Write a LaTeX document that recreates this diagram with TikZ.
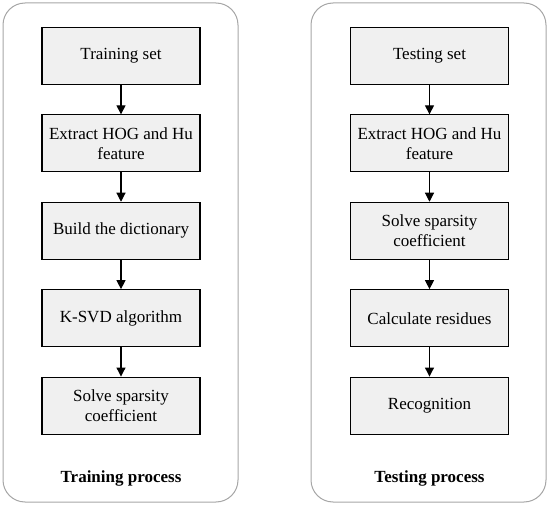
\documentclass[tikz,border=0pt]{standalone}
\usepackage{fontspec}
\setmainfont{Liberation Serif}
\usetikzlibrary{arrows.meta}

\begin{document}
\begin{tikzpicture}[x=1pt,y=-1pt,
  panel/.style={draw=black!35,line width=1pt,rounded corners=22pt},
  stepbox/.style={draw,line width=1.1pt,fill=black!6,minimum width=158pt,minimum height=57pt,inner sep=1pt,align=center,font=\fontsize{17}{20}\selectfont},
  title/.style={font=\fontsize{17}{20}\selectfont\bfseries},
  flow/.style={draw,line width=1.1pt,-{Triangle[width=9pt,length=9pt]}}]
\useasboundingbox (0,0) rectangle (550,508);
\draw[panel] (3,3) rectangle (238,502);
\draw[panel] (311,3) rectangle (546,502);
\node[stepbox] (t1) at (121,56) {Training set};
\node[stepbox] (t2) at (121,143.4) {Extract HOG and Hu\\feature};
\node[stepbox] (t3) at (121,230.8) {Build the dictionary};
\node[stepbox] (t4) at (121,318.2) {K-SVD algorithm};
\node[stepbox] (t5) at (121,405.6) {Solve sparsity\\coefficient};
\node[title] (tp) at (121,478) {Training process};
\node[stepbox] (s1) at (429.5,56) {Testing set};
\node[stepbox] (s2) at (429.5,143.4) {Extract HOG and Hu\\feature};
\node[stepbox] (s3) at (429.5,230.8) {Solve sparsity\\coefficient};
\node[stepbox] (s4) at (429.5,318.2) {Calculate residues};
\node[stepbox] (s5) at (429.5,405.6) {Recognition};
\node[title] (sp) at (429.5,478) {Testing process};
\path[flow](t1) edge (t2);
\path[flow](t2) edge (t3);
\path[flow](t3) edge (t4);
\path[flow](t4) edge (t5);
\path[flow](s1) edge (s2);
\path[flow](s2) edge (s3);
\path[flow](s3) edge (s4);
\path[flow](s4) edge (s5);
\end{tikzpicture}
\end{document}
